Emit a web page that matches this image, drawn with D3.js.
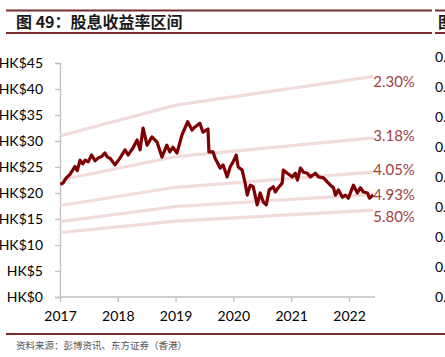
<!DOCTYPE html>
<html><head><meta charset="utf-8">
<script src="https://cdn.jsdelivr.net/npm/d3@7"></script>
<style>
html,body{margin:0;padding:0;background:#fff;overflow:hidden}
svg{display:block}
</style></head>
<body>
<svg id="c" width="445" height="357"></svg>
<script>
// ---- data ----
const priceDates = ["2017-01-03","2017-01-20","2017-02-10","2017-03-05","2017-04-06","2017-04-20","2017-05-08","2017-05-25","2017-06-08","2017-06-28","2017-07-20","2017-08-10","2017-08-29","2017-09-20","2017-10-12","2017-10-28","2017-11-13","2017-12-14",
"2018-01-15","2018-02-16","2018-03-07","2018-04-08","2018-05-03","2018-05-22","2018-06-10","2018-07-05","2018-08-05","2018-09-06","2018-10-07","2018-11-07","2018-11-26","2018-12-15",
"2019-01-10","2019-02-11","2019-03-19","2019-04-15","2019-05-04","2019-06-04","2019-06-23","2019-07-25","2019-07-31","2019-08-26","2019-09-08","2019-10-10","2019-10-29","2019-11-23","2019-12-12","2019-12-31",
"2020-01-19","2020-02-01","2020-02-26","2020-03-16","2020-03-29","2020-04-17","2020-05-06","2020-05-31","2020-06-19","2020-07-08","2020-07-27","2020-08-15","2020-09-10","2020-09-22","2020-10-11","2020-11-05","2020-11-12","2020-12-07",
"2021-01-08","2021-01-27","2021-02-09","2021-02-28","2021-03-19","2021-04-13","2021-05-02","2021-06-03","2021-06-22","2021-07-24","2021-08-18","2021-09-06","2021-09-25","2021-10-07","2021-10-26","2021-11-20","2021-12-09","2021-12-28",
"2022-01-29","2022-02-23","2022-03-14","2022-04-02","2022-04-28","2022-05-10","2022-06-03"];
const priceValues = [21.7,21.9,22.9,23.6,25.1,24.3,26.3,25.6,26.3,26.0,27.3,26.2,26.7,27.0,27.7,26.9,26.7,25.4,
26.7,28.3,27.3,28.7,30.2,28.3,32.5,29.2,30.8,29.8,26.9,29.2,27.9,28.8,
27.7,31.2,33.7,32.1,32.7,33.4,31.7,32.3,27.9,27.9,26.7,24.8,25.4,23.1,25.0,26.0,
27.3,25.0,24.4,21.9,19.6,21.5,21.2,17.7,20.0,18.3,17.7,20.6,21.2,20.2,21.0,21.9,24.4,23.8,
23.1,23.8,22.5,24.8,24.0,23.8,23.1,23.8,23.1,22.9,22.1,21.5,21.0,19.6,20.6,19.2,19.6,19.0,
21.5,20.0,21.0,20.2,20.0,19.0,19.6];

const bandDates = ["2017-01-03","2019-01-02","2022-06-03"];
const bandLabels = ["2.30%","3.18%","4.05%","4.93%","5.80%"];
const band230 = [31.0,36.9,42.4];
const band318 = [22.5,27.0,30.6];
const band405 = [17.6,21.1,24.0];
const band493 = [14.5,17.4,19.75];
const band580 = [12.4,14.6,16.7];
const bands = [band230,band318,band405,band493,band580];

const leftTicks = [0,5,10,15,20,25,30,35,40,45];
const rightTicks = [0,0.1,0.2,0.3,0.4,0.5,0.6,0.7,0.8];
const yearTicks = ["2017","2018","2019","2020","2021","2022"];

const title = "图 49：股息收益率区间";
const source = "资料来源：彭博资讯、东方证券（香港）";

// ---- drawing ----
const svg = d3.select("#c");
const parse = d3.timeParse("%Y-%m-%d");
const latin = "Lato, 'Open Sans', sans-serif";
const cjk = "'Noto Sans CJK SC', sans-serif";

const x = d3.scaleTime().domain([parse("2017-01-01"), parse("2022-01-01")]).range([60, 349]);
const y = d3.scaleLinear().domain([0,45]).range([297,63]);
const yr = d3.scaleLinear().domain([0,0.8]).range([297,57]);

// header rules
const rule = "#7B2B2B";
[10.5,33].forEach(yy=>{
  svg.append("line").attr("x1",6).attr("x2",432).attr("y1",yy).attr("y2",yy).attr("stroke",rule).attr("stroke-width",2);
  svg.append("line").attr("x1",435).attr("x2",445).attr("y1",yy).attr("y2",yy).attr("stroke",rule).attr("stroke-width",2);
});
svg.append("text").attr("x",16).attr("y",27.5).attr("font-family",cjk).attr("font-weight","bold")
  .attr("font-size",16).attr("fill","#1a1a1a").text(title);
svg.append("text").attr("x",438).attr("y",27.5).attr("font-family",cjk).attr("font-weight","bold")
  .attr("font-size",16).attr("fill","#1a1a1a").text("图");

// left axis
const gy = svg.append("g").attr("transform","translate(60,0)")
  .call(d3.axisLeft(y).tickValues(leftTicks).tickSize(5).tickPadding(12).tickFormat(d=>"HK$"+d));
gy.select(".domain").attr("stroke","#BFBFBF").attr("stroke-width",1.3);
gy.selectAll(".tick line").attr("stroke","#BFBFBF").attr("stroke-width",1.3);
gy.selectAll("text").attr("font-family",latin).attr("font-size",14).attr("fill","#000");

// bottom axis
const gx = svg.append("g").attr("transform","translate(0,297)")
  .call(d3.axisBottom(x).tickValues(yearTicks.map(t=>parse(t+"-01-01"))).tickSize(5).tickPadding(9).tickFormat(d3.timeFormat("%Y")));
gx.select(".domain").attr("d","M60,0H375").attr("stroke","#BFBFBF").attr("stroke-width",1.3);
gx.selectAll(".tick line").attr("stroke","#BFBFBF").attr("stroke-width",1.3);
gx.selectAll("text").attr("font-family",latin).attr("font-size",14).attr("fill","#000");

// right axis (labels only)
const gr = svg.append("g").attr("transform","translate(435,0)")
  .call(d3.axisRight(yr).tickValues(rightTicks).tickSize(0).tickPadding(0).tickFormat(d3.format(".2f")));
gr.select(".domain").remove();
gr.selectAll("text").attr("font-family",latin).attr("font-size",14).attr("fill","#000");

// band lines
const bd = bandDates.map(parse);
const bandLine = d3.line().x((d,i)=>x(bd[i])).y(d=>y(d));
svg.append("g").selectAll("path").data(bands).join("path")
  .attr("d",bandLine).attr("fill","none").attr("stroke","#F2DCDB").attr("stroke-width",3.2);

// price line
const pd = priceDates.map(parse);
svg.append("path").datum(priceValues)
  .attr("d", d3.line().x((d,i)=>x(pd[i])).y(d=>y(d)))
  .attr("fill","none").attr("stroke","#7F0000").attr("stroke-width",3.2).attr("stroke-linejoin","round");

// band labels
const labelDy = [5,-2,-2,0,7];
svg.append("g").selectAll("text").data(bands).join("text")
  .attr("x",x(bd[bd.length-1]))
  .attr("y",(d,i)=>y(d[d.length-1])+labelDy[i])
  .attr("dy","0.35em")
  .attr("font-family",latin).attr("font-size",15).attr("fill","#A0403F")
  .text((d,i)=>bandLabels[i]);

// footer
svg.append("line").attr("x1",6).attr("x2",445).attr("y1",334).attr("y2",334).attr("stroke",rule).attr("stroke-width",2);
svg.append("text").attr("x",16).attr("y",349).attr("font-family",cjk)
  .attr("font-size",9.5).attr("fill","#555").text(source);
</script>
</body></html>
